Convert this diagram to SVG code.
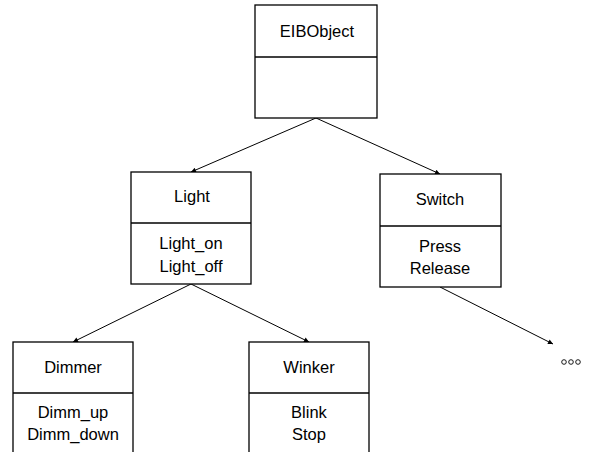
<svg xmlns="http://www.w3.org/2000/svg" width="595" height="452" viewBox="0 0 595 452">
<style>
.box{fill:#fff;stroke:#000;stroke-width:1.3}
.div{stroke:#000;stroke-width:1.3}
text{font-family:"Liberation Sans",Arial,sans-serif;font-size:16.5px;fill:#000;text-anchor:middle}
.con{stroke:#000;stroke-width:1;fill:none;marker-end:url(#ah)}
</style>
<defs>
<marker id="ah" viewBox="0 0 10 10" refX="10" refY="5" markerWidth="7" markerHeight="5" orient="auto" markerUnits="userSpaceOnUse">
<path d="M0,0 L10,5 L0,10 z" fill="#000"/>
</marker>
</defs>
<rect width="595" height="452" fill="#fff"/>
<g id="connectors">
<line class="con" x1="316" y1="118" x2="191" y2="172"/>
<line class="con" x1="316" y1="118" x2="440" y2="174"/>
<line class="con" x1="191" y1="284" x2="73" y2="342"/>
<line class="con" x1="191" y1="284" x2="309" y2="342"/>
<line class="con" x1="440" y1="287" x2="553" y2="344"/>
</g>
<g id="EIBObject">
<rect class="box" x="255" y="5" width="122" height="113"/>
<line class="div" x1="255" y1="57" x2="377" y2="57"/>
<text x="317" y="37">EIBObject</text>
</g>
<g id="Light">
<rect class="box" x="131" y="172" width="120" height="112"/>
<line class="div" x1="131" y1="223" x2="251" y2="223"/>
<text x="192" y="202">Light</text>
<text x="191" y="249">Light_on</text>
<text x="191" y="272">Light_off</text>
</g>
<g id="Switch">
<rect class="box" x="380" y="174" width="121" height="113"/>
<line class="div" x1="380" y1="226" x2="501" y2="226"/>
<text x="440" y="205">Switch</text>
<text x="440" y="252">Press</text>
<text x="440" y="274">Release</text>
</g>
<g id="Dimmer">
<rect class="box" x="13" y="342" width="120" height="120"/>
<line class="div" x1="13" y1="393" x2="133" y2="393"/>
<text x="73" y="373">Dimmer</text>
<text x="73" y="418">Dimm_up</text>
<text x="73" y="440">Dimm_down</text>
</g>
<g id="Winker">
<rect class="box" x="249" y="342" width="120" height="120"/>
<line class="div" x1="249" y1="393" x2="369" y2="393"/>
<text x="309" y="373">Winker</text>
<text x="309" y="418">Blink</text>
<text x="309" y="440">Stop</text>
</g>
<g id="ellipsis">
<circle cx="564" cy="362" r="2.3" fill="none" stroke="#000" stroke-width="0.9"/>
<circle cx="571" cy="362" r="2.3" fill="none" stroke="#000" stroke-width="0.9"/>
<circle cx="578" cy="362" r="2.3" fill="none" stroke="#000" stroke-width="0.9"/>
</g>
</svg>
